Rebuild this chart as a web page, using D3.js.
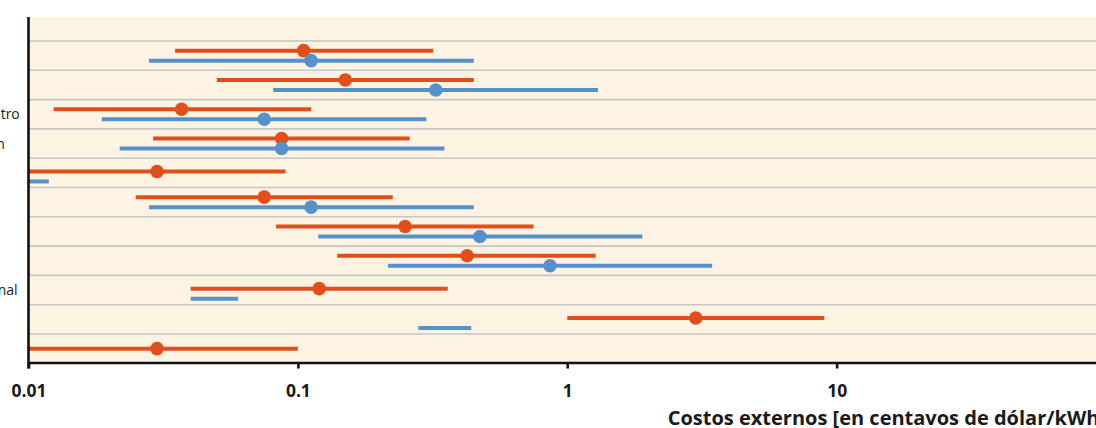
<!DOCTYPE html>
<html>
<head>
<meta charset="utf-8">
<script src="https://cdn.jsdelivr.net/npm/d3@7"></script>
<style>
  html, body { margin: 0; padding: 0; background: #ffffff; overflow: hidden; }
  svg { display: block; }
  text { font-family: "Open Sans", "Noto Sans", sans-serif; fill: #1a1a1a; }
</style>
</head>
<body>
<svg id="chart" width="1096" height="428"></svg>
<script>
// ---- data ----
const categories = ["Carbón", "Turba", "Petróleo, centro", "Cogeneración", "Nuclear", "Gas natural",
                    "Fotovoltaica", "Hidráulica", "Lignito nacional", "Eólica", "Geotermia"];
const redLow  = [0.035, 0.05, 0.0124, 0.029, 0.01, 0.025, 0.083, 0.14, 0.04, 1.0, 0.01];
const redMid  = [0.105, 0.15, 0.037, 0.087, 0.03, 0.075, 0.25, 0.425, 0.12, 3.0, 0.03];
const redHigh = [0.318, 0.45, 0.112, 0.26, 0.09, 0.225, 0.75, 1.275, 0.36, 9.0, 0.1];
const blueLow  = [0.028, 0.081, 0.0187, 0.0218, 0.01, 0.028, 0.119, 0.216, 0.04, 0.28, null];
const blueMid  = [0.112, 0.325, 0.075, 0.087, null, 0.112, 0.474, 0.863, null, null, null];
const blueHigh = [0.45, 1.3, 0.3, 0.35, 0.0119, 0.45, 1.9, 3.45, 0.06, 0.44, null];
const xTicks = [0.01, 0.1, 1, 10];
const xTickLabels = ["0.01", "0.1", "1", "10"];
const xTitle = "Costos externos [en centavos de dólar/kWh]";

// ---- layout ----
const RED = "#e24e1b", BLUE = "#5591cb", BG = "#fdf3e3", GRID = "#c6c6c6";
const plotLeft = 28.5, plotRight = 1106, plotTop = 17, rowsTop = 41, rowsBottom = 363.3;
const svg = d3.select("#chart");

const x = d3.scaleLog().domain([0.01, 100]).range([plotLeft, plotRight]);
const y = d3.scaleBand().domain(d3.range(categories.length)).range([rowsTop, rowsBottom]).padding(0);
const bw = y.bandwidth();

// background
svg.append("rect").attr("x", plotLeft).attr("y", plotTop)
   .attr("width", plotRight - plotLeft).attr("height", rowsBottom - plotTop)
   .attr("fill", BG);

// grid lines (row separators)
svg.append("g").selectAll("line").data(d3.range(categories.length)).join("line")
   .attr("x1", plotLeft).attr("x2", plotRight)
   .attr("y1", d => y(d)).attr("y2", d => y(d))
   .attr("stroke", GRID).attr("stroke-width", 1.6);

// vertical offsets inside each row depend on which values exist
function redOff(i) {
  if (blueLow[i] == null) return 0;
  return blueMid[i] == null ? -1.4 : -5;
}
function blueOff(i) {
  return blueMid[i] == null ? 8.6 : 5;
}
const cy = i => y(i) + bw / 2;

// category labels (left aligned, mostly outside the visible window)
svg.append("g").selectAll("text").data(categories).join("text")
   .attr("x", -85).attr("y", (d, i) => cy(i) + 5)
   .attr("text-anchor", "start").style("font-size", "14px")
   .text(d => d);

// series
function drawSeries(lo, mid, hi, color, off) {
  const idx = d3.range(categories.length).filter(i => lo[i] != null);
  const g = svg.append("g");
  g.selectAll("line").data(idx).join("line")
    .attr("x1", i => x(lo[i])).attr("x2", i => x(hi[i]))
    .attr("y1", i => cy(i) + off(i)).attr("y2", i => cy(i) + off(i))
    .attr("stroke", color).attr("stroke-width", 4);
  g.selectAll("circle").data(idx.filter(i => mid[i] != null)).join("circle")
    .attr("cx", i => x(mid[i])).attr("cy", i => cy(i) + off(i))
    .attr("r", 6.8).attr("fill", color);
}
drawSeries(redLow, redMid, redHigh, RED, redOff);
drawSeries(blueLow, blueMid, blueHigh, BLUE, blueOff);

// x axis
const axisY = 362.5;
const ax = svg.append("g").attr("transform", `translate(0,${axisY})`)
  .call(d3.axisBottom(x).tickValues(xTicks).tickFormat((d, i) => xTickLabels[i])
        .tickSize(6).tickSizeOuter(0));
ax.select(".domain").attr("stroke", "#111").attr("stroke-width", 2.6);
ax.selectAll(".tick line").attr("stroke", "#111").attr("stroke-width", 2.6);
ax.selectAll(".tick text").attr("y", 34.5).attr("dy", null)
  .style("font-size", "17.5px").style("font-weight", "bold").attr("fill", "#1a1a1a");

// left axis line
svg.append("line").attr("x1", plotLeft).attr("x2", plotLeft)
   .attr("y1", plotTop).attr("y2", axisY + 6)
   .attr("stroke", "#111").attr("stroke-width", 2.6);

// axis title
svg.append("text").attr("x", x(100)).attr("y", 424.5).attr("text-anchor", "end")
   .style("font-size", "20px").style("font-weight", "bold").text(xTitle);
</script>
</body>
</html>
